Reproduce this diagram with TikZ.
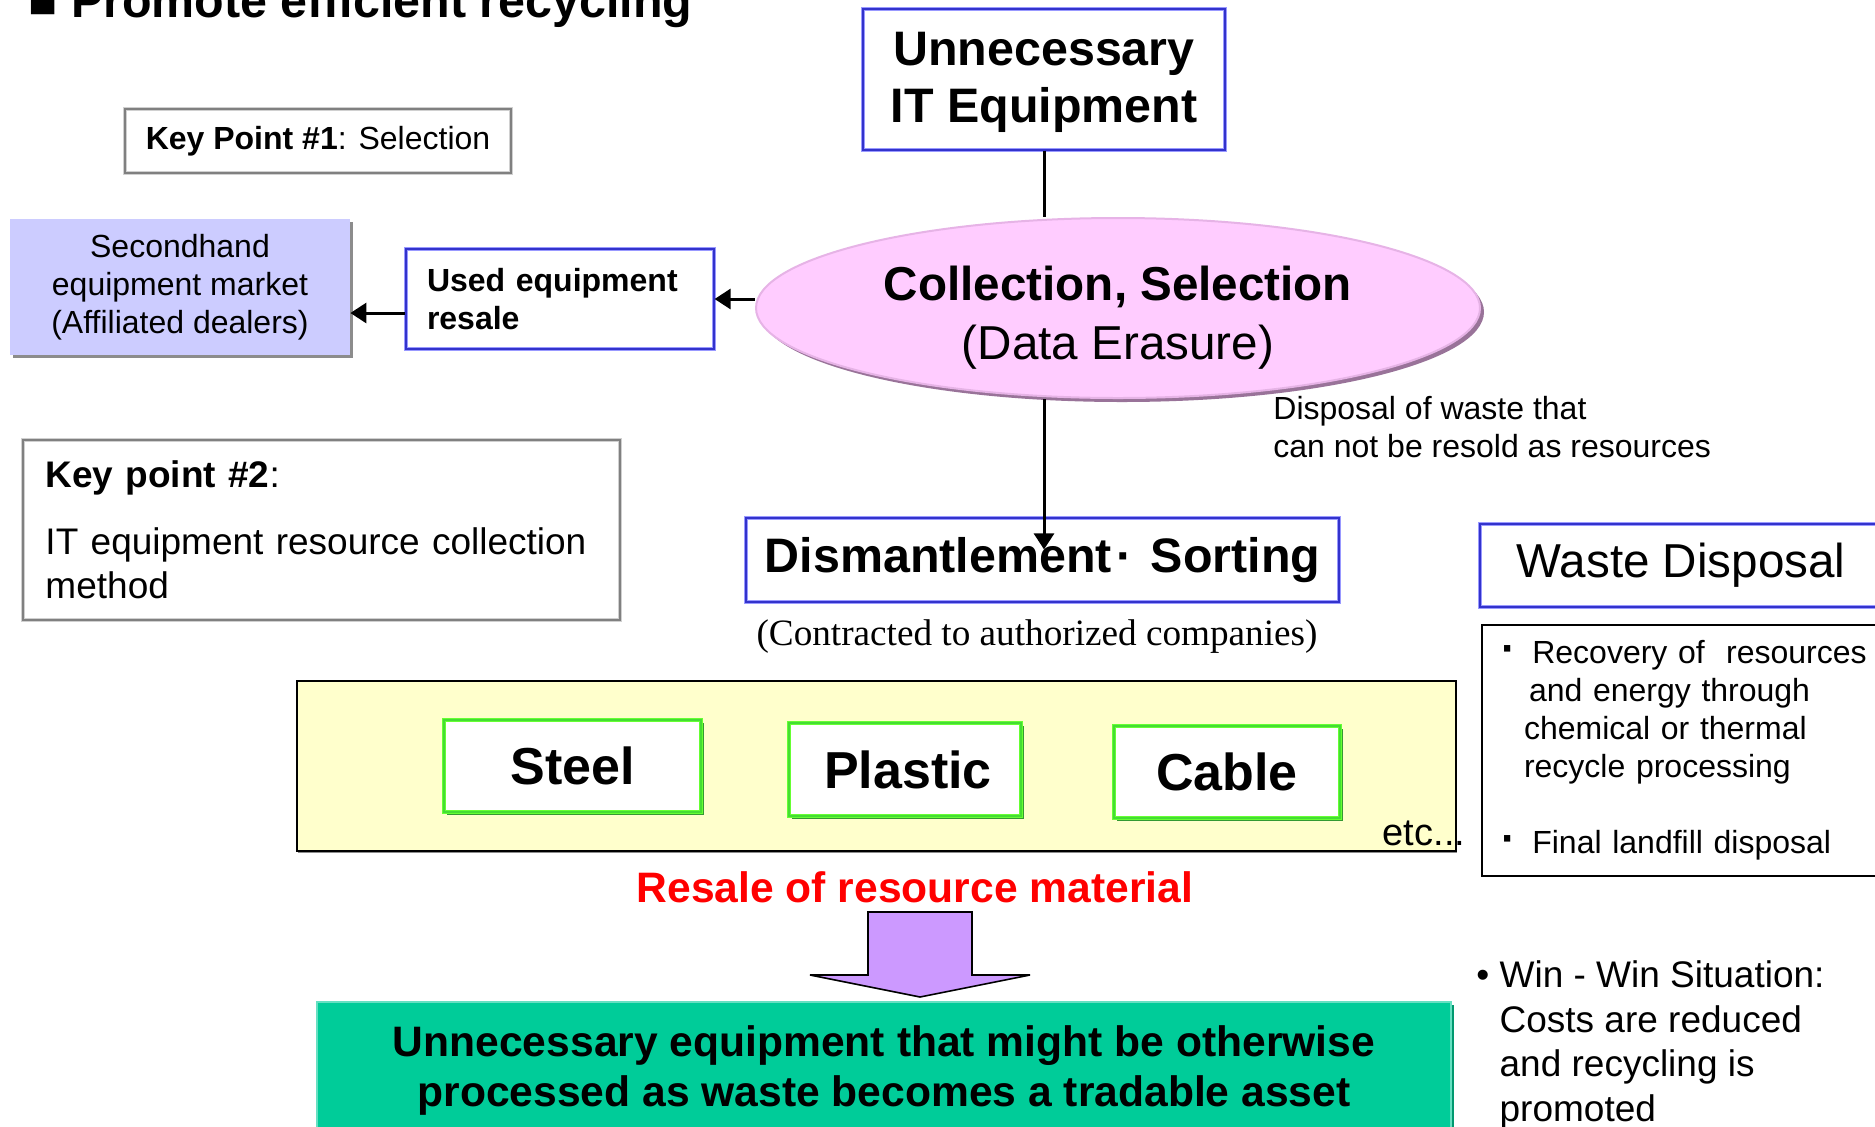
\documentclass[tikz,border=0pt]{standalone}
\usepackage{fontspec}
\setmainfont{Liberation Sans}
\newfontfamily\serif{Liberation Serif}
\usetikzlibrary{shadows,shapes.geometric,arrows.meta}

\definecolor{blueout}{HTML}{9999FF}
\definecolor{bluein}{HTML}{3333CC}
\definecolor{blueshade}{HTML}{333399}
\definecolor{greenout}{HTML}{66FF33}
\definecolor{greenin}{HTML}{44DD33}
\definecolor{greenshade}{HTML}{339933}
\definecolor{grayout}{HTML}{D0D0D0}
\definecolor{grayin}{HTML}{808080}
\definecolor{grayshade}{HTML}{8C8C8C}
\definecolor{lavender}{HTML}{CCCCFF}
\definecolor{pinkfill}{HTML}{FFCCFF}
\definecolor{pinkline}{HTML}{E6B3E6}
\definecolor{pinkshade}{HTML}{997399}
\definecolor{paleyellow}{HTML}{FFFFCC}
\definecolor{sea}{HTML}{00CC99}
\definecolor{seaedge}{HTML}{66E0C2}
\definecolor{seashade}{HTML}{00996F}
\definecolor{lilac}{HTML}{CC99FF}

\newcommand{\wdot}{{\fontsize{22}{19}\selectfont\textbf{·}}}

\begin{document}
\begin{tikzpicture}[x=0.5pt, y=-0.5pt,
    bluebox/.style={draw=blueout, double=bluein, line width=0.6pt, double distance=0.9pt, fill=white, inner sep=0pt,
      drop shadow={shadow xshift=1.2pt, shadow yshift=-1.2pt, fill=blueshade, opacity=1}},
    greenbox/.style={draw=greenout, double=greenin, line width=0.6pt, double distance=0.6pt, fill=white, inner sep=0pt,
      drop shadow={shadow xshift=1.5pt, shadow yshift=-1.5pt, fill=greenshade, opacity=1}},
    graybox/.style={draw=grayout, double=grayin, line width=0.6pt, double distance=0.6pt, fill=white, inner sep=0pt,
      drop shadow={shadow xshift=1.2pt, shadow yshift=-1.2pt, fill=grayshade, opacity=1}},
    conn/.style={line width=1.5pt, -{Triangle[length=8pt,width=10pt]}},
    f24b/.style={font=\fontsize{24.2}{28.5}\selectfont\bfseries},
    f24/.style={font=\fontsize{23.8}{29.5}\selectfont},
    f26b/.style={font=\fontsize{26}{31}\selectfont\bfseries},
    f21b/.style={font=\fontsize{21.3}{25}\selectfont\bfseries},
    f18/.style={font=\fontsize{18.5}{22.3}\selectfont},
    f16/.style={font=\fontsize{16}{19}\selectfont},
    f16b/.style={font=\fontsize{16}{19}\selectfont\bfseries}]
  \path[use as bounding box, clip] (0,0) rectangle (1875,1126);

  % title
  \node[f24b, anchor=base west, inner sep=0pt] (title) at (28,17) {■ Promote efficient recycling};

  % left column
  \node[graybox, f16, minimum width=193pt, minimum height=32pt] (key1) at (318,141) {\textbf{Key Point \#1}: Selection};
  \node[f16, fill=lavender, align=center, minimum width=170pt, minimum height=68pt,
    drop shadow={shadow xshift=1.5pt, shadow yshift=-1.5pt, fill=grayshade, opacity=1}] (market) at (180,287)
    {Secondhand\\equipment market\\(Affiliated dealers)};
  \node[bluebox, f16b, align=left, text width=133pt, inner xsep=10.5pt, minimum width=154pt, minimum height=50pt] (resale) at (560,299)
    {Used equipment\\resale};
  \node[graybox, f18, align=left, text width=276pt, inner xsep=11pt, minimum width=298.5pt, minimum height=90pt] (key2) at (321.5,530)
    {\textbf{Key point \#2}:\\[11pt]IT equipment resource collection\\method};

  % centre column
  \node[bluebox, f24b, align=center, minimum width=181pt, minimum height=70.5pt, text depth=2pt] (itequip) at (1044,79.5) {Unnecessary\\IT Equipment};
  \node[ellipse, fill=pinkfill, draw=pinkline, line width=1pt, inner sep=0pt,
    minimum width=362pt, minimum height=90pt,
    drop shadow={shadow xshift=2pt, shadow yshift=-2pt, fill=pinkshade, opacity=1}] (collect) at (1118,308) {};
  \node[f24, align=center] (collecttxt) at (1118,318) {\textbf{Collection, Selection}\\(Data Erasure)};
  \node[f16, align=left, anchor=west, inner sep=0pt] (disposal) at (1273,427) {Disposal of waste that\\can not be resold as resources};
  \node[bluebox, f24b, minimum width=296.5pt, minimum height=42pt] (dismantle) at (1042.5,560)
    {\raisebox{-2pt}{Dismantlement\kern2.5pt·\kern9pt Sorting}};
  \node[font=\serif\fontsize{18.6}{22}\selectfont] (contract) at (1037,637) {(Contracted to authorized companies)};

  % materials
  \node[draw, line width=1pt, fill=paleyellow, minimum width=579.5pt, minimum height=85pt,
    drop shadow={shadow xshift=0.6pt, shadow yshift=-0.8pt, fill=grayshade, opacity=1}] (matbox) at (876.5,766) {};
  \node[greenbox, f26b, minimum width=128.5pt, minimum height=46pt] (steel) at (572.5,766) {Steel};
  \node[greenbox, f26b, minimum width=116pt, minimum height=46.5pt] (plastic) at (905,769.5) {\hspace*{3pt}Plastic};
  \node[greenbox, f26b, minimum width=113pt, minimum height=46pt] (cable) at (1227,772) {Cable};
  \node[font=\fontsize{19}{22}\selectfont, inner sep=0pt] (etc) at (1424,833) {etc...};
  \node[f21b, text=red] (resalelbl) at (915,887) {Resale of resource material};
  \draw[fill=lilac, line width=0.8pt] (868,912) -- (972,912) -- (972,975) -- (1030,975) -- (920,997) -- (810,975) -- (868,975) -- cycle;
  \node[f21b, align=center, fill=sea, draw=seaedge, line width=1pt, minimum width=567pt, minimum height=68pt,
    drop shadow={shadow xshift=1.5pt, shadow yshift=-1.5pt, fill=seashade, opacity=1}] (asset) at (884,1070)
    {Unnecessary equipment that might be otherwise\\processed as waste becomes a tradable asset};

  % right column
  \node[bluebox, f24, minimum width=201pt, minimum height=41.5pt] (wastehead) at (1681,565.5) {\raisebox{-2pt}{Waste Disposal}};
  \node[f16, draw, line width=1pt, fill=white, anchor=north west, align=left, text width=193pt, inner xsep=9.5pt,
    minimum width=212pt, minimum height=125.5pt] (wastelist) at (1481,624)
    {\wdot\hspace{3pt} Recovery of\ \ resources\\\hspace*{14pt}and energy through\\\hspace*{11.5pt}chemical or thermal\\
     \hspace*{11.5pt}recycle processing\\[19pt]\wdot\hspace{3pt} Final landfill disposal};
  \node[f18, align=left, anchor=west, inner sep=0pt] (win) at (1476,1045)
    {•\ Win - Win Situation:\\\phantom{•\ }Costs are reduced\\\phantom{•\ }and recycling is\\\phantom{•\ }promoted};

  % arrows
  \coordinate (resalelow) at ([yshift=-7pt]resale.west);
  \coordinate (distip) at ([yshift=-16pt]dismantle.north);
  \draw[line width=1.5pt] (itequip.south) -- (collect.north -| itequip.south);
  \draw[conn] (collect.west |- resale.east) -- (resale.east);
  \draw[conn] (resalelow) -- (resalelow -| market.east);
  \draw[conn] (collect.south -| itequip.south) -- (distip -| itequip.south);
\end{tikzpicture}
\end{document}
